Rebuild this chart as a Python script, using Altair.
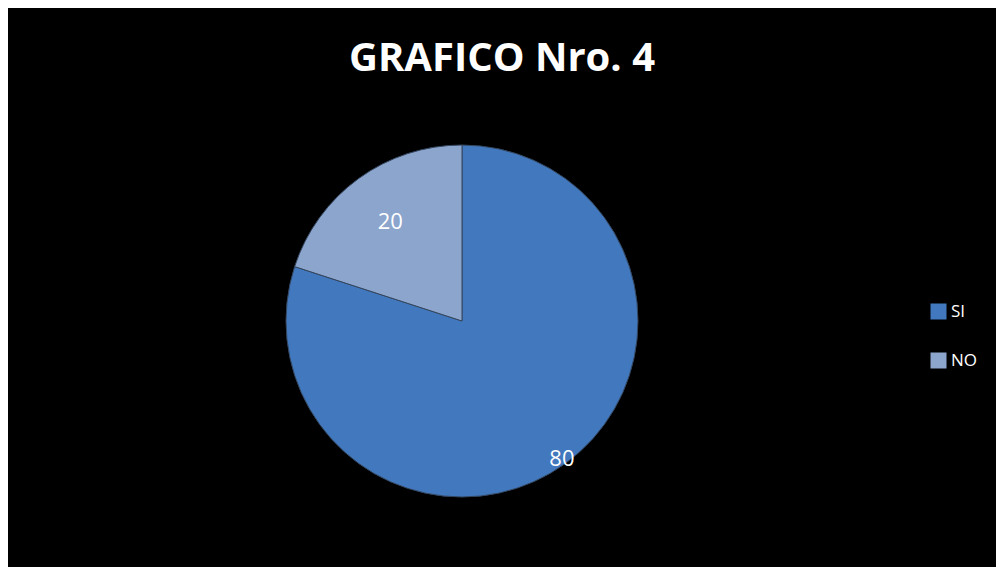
import altair as alt
import pandas as pd

categories = ["SI", "NO"]
values = [80, 20]
order = [1, 2]
colors = ["#4178be", "#8ca5cd"]

df = pd.DataFrame({"cat": categories, "val": values, "ord": order})

base = alt.Chart(df).encode(
    theta=alt.Theta("val:Q", stack=True),
    order=alt.Order("ord:Q"),
)

pie = base.mark_arc(outerRadius=176, stroke="#34465e", strokeWidth=1).encode(
    x=alt.value(454),
    y=alt.value(313),
    color=alt.Color(
        "cat:N",
        scale=alt.Scale(domain=categories, range=colors),
        sort=categories,
        legend=alt.Legend(
            title=None,
            orient="none",
            legendX=922,
            legendY=295,
            symbolType="square",
            symbolSize=256,
            symbolStrokeWidth=0,
            labelColor="white",
            labelFont="Open Sans",
            labelFontSize=17,
            rowPadding=31,
            labelOffset=4,
        ),
    ),
)

labels = base.mark_text(fontSize=22, font="Open Sans", color="white").encode(
    x=alt.value(454),
    y=alt.value(313),
    radius=alt.Radius("val:Q", scale=alt.Scale(type="linear", domain=[20, 80], range=[122, 170], zero=False)),
    text=alt.Text("val:Q"),
)

chart = (
    alt.layer(pie, labels)
    .properties(
        width=988,
        height=559,
        background="black",
        padding=0,
        title=alt.TitleParams(
            "GRAFICO Nro. 4",
            color="white",
            font="Open Sans",
            fontSize=40,
            fontWeight="bold",
            anchor="middle",
            offset=-71,
        ),
    )
    .configure_view(stroke=None)
)

chart.save("out.html", embed_options={"renderer": "svg", "actions": False})
